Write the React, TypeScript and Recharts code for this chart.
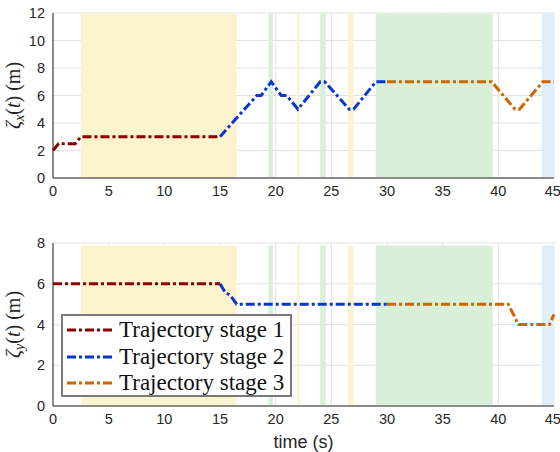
import React from "react";
import { CartesianGrid, Legend, Line, LineChart, ReferenceArea, XAxis, YAxis } from "recharts";

// shaded time windows [start, end, kind]
const bands: [number, number, string][] = [
  [2.5, 16.5, "yellow"],
  [19.35, 19.75, "green"],
  [21.95, 22.15, "yellow"],
  [24.0, 24.5, "green"],
  [26.5, 27.0, "yellow"],
  [29.0, 39.5, "green"],
  [43.9, 45, "blue"],
];

// zeta_x(t)
const xStage1 = [
  { t: 0, v: 2 }, { t: 0.5, v: 2.5 }, { t: 2, v: 2.5 }, { t: 2.5, v: 3 }, { t: 15, v: 3 },
];
const xStage2 = [
  { t: 15, v: 3 }, { t: 18.3, v: 6 }, { t: 18.7, v: 6 }, { t: 19.6, v: 7 }, { t: 20.5, v: 6 },
  { t: 21.0, v: 6 }, { t: 22.0, v: 5 }, { t: 24.0, v: 7 }, { t: 24.4, v: 7 }, { t: 26.6, v: 5 },
  { t: 27.0, v: 5 }, { t: 29.0, v: 7 }, { t: 30, v: 7 },
];
const xStage3 = [
  { t: 30, v: 7 }, { t: 39.4, v: 7 }, { t: 41.5, v: 5 }, { t: 41.9, v: 5 }, { t: 44.0, v: 7 }, { t: 45, v: 7 },
];

// zeta_y(t)
const yStage1 = [{ t: 0, v: 6 }, { t: 15, v: 6 }];
const yStage2 = [
  { t: 15, v: 6 }, { t: 15.5, v: 5.55 }, { t: 15.9, v: 5.45 }, { t: 16.5, v: 5 }, { t: 30, v: 5 },
];
const yStage3 = [
  { t: 30, v: 5 }, { t: 40.9, v: 5 }, { t: 41.8, v: 4 }, { t: 44.6, v: 4 }, { t: 45, v: 4.5 },
];

const timeTicks = [0, 5, 10, 15, 20, 25, 30, 35, 40, 45];
const topTicks = [0, 2, 4, 6, 8, 10, 12];
const bottomTicks = [0, 2, 4, 6, 8];

const legendNames = ["Trajectory stage 1", "Trajectory stage 2", "Trajectory stage 3"];

const RED = "#8c0000";
const BLUE = "#0a36d0";
const ORANGE = "#cf6500";
const stageColors = [RED, BLUE, ORANGE];
const bandColors: Record<string, string> = {
  yellow: "#fdf3cd",
  green: "#d9f0d8",
  blue: "#e0eefc",
};

const DASH = "9 3 3 3";
const tickStyle = { fill: "#262626", fontSize: 14.5, fontFamily: "Liberation Sans, Arial, sans-serif" };

function YLabel({ viewBox, sub }: any) {
  const cx = viewBox.x + 20;
  const cy = viewBox.y + viewBox.height / 2;
  return (
    <text
      x={cx}
      y={cy}
      transform={`rotate(-90, ${cx}, ${cy})`}
      textAnchor="middle"
      fill="#262626"
      fontFamily="Liberation Serif, DejaVu Serif, serif"
      fontSize={20}
    >
      <tspan fontStyle="italic">ζ</tspan>
      <tspan fontStyle="italic" fontSize={14} dy={4}>{sub}</tspan>
      <tspan dy={-4}>(</tspan>
      <tspan fontStyle="italic">t</tspan>
      <tspan>)  (m)</tspan>
    </text>
  );
}

function LegendBox() {
  return (
    <div
      style={{
        border: "2px solid #7a7a7a",
        background: "#fff",
        padding: "1px 4px 1px 3px",
        width: 231,
        height: 83,
        boxSizing: "border-box",
      }}
    >
      {legendNames.map((name, i) => (
        <div key={name} style={{ display: "flex", alignItems: "center", height: 26.5 }}>
          <svg width={48} height={10} style={{ marginRight: 5, flexShrink: 0 }}>
            <line x1={1} y1={5} x2={47} y2={5} stroke={stageColors[i]} strokeWidth={3} strokeDasharray={DASH} />
          </svg>
          <span
            style={{
              fontFamily: "Liberation Serif, DejaVu Serif, serif",
              fontSize: 23,
              lineHeight: "26px",
              color: "#111",
              whiteSpace: "nowrap",
            }}
          >
            {name}
          </span>
        </div>
      ))}
    </div>
  );
}

export default function App() {
  const bandAreas = (y1: number, y2: number) =>
    bands.map(([a, b, k], i) => (
      <ReferenceArea
        key={i}
        x1={a}
        x2={b}
        y1={y1}
        y2={y2}
        fill={bandColors[k]}
        fillOpacity={1}
        stroke="none"
        ifOverflow="visible"
      />
    ));

  return (
    <div style={{ position: "absolute", left: 0, top: 0, width: 560, height: 452, background: "#fff" }}>
      <LineChart width={560} height={215} margin={{ top: 13, right: 6, bottom: 7, left: 0 }}>
        <CartesianGrid stroke="#e3e3e3" strokeWidth={1} />
        <XAxis
          dataKey="t"
          type="number"
          domain={[0, 45]}
          ticks={timeTicks}
          height={30}
          tick={tickStyle}
          tickLine={false}
          stroke="#262626"
          allowDuplicatedCategory={false}
        />
        <YAxis
          type="number"
          domain={[0, 12]}
          ticks={topTicks}
          width={53}
          tick={tickStyle}
          tickLine={false}
          stroke="#262626"
          label={<YLabel sub="x" />}
        />
        {bandAreas(0.05, 11.97)}
        <Line data={xStage1} dataKey="v" stroke={RED} strokeWidth={3} strokeDasharray={DASH} dot={false} isAnimationActive={false} type="linear" />
        <Line data={xStage2} dataKey="v" stroke={BLUE} strokeWidth={3} strokeDasharray={DASH} dot={false} isAnimationActive={false} type="linear" />
        <Line data={xStage3} dataKey="v" stroke={ORANGE} strokeWidth={3} strokeDasharray={DASH} dot={false} isAnimationActive={false} type="linear" />
      </LineChart>
      <LineChart width={560} height={237} margin={{ top: 28, right: 6, bottom: 1, left: 0 }}>
        <CartesianGrid stroke="#e3e3e3" strokeWidth={1} />
        <XAxis
          dataKey="t"
          type="number"
          domain={[0, 45]}
          ticks={timeTicks}
          height={45}
          tick={tickStyle}
          tickLine={false}
          stroke="#262626"
          allowDuplicatedCategory={false}
          label={{
            value: "time (s)",
            position: "insideBottom",
            offset: 3,
            fill: "#262626",
            fontSize: 18,
            fontFamily: "Liberation Sans, Arial, sans-serif",
          }}
        />
        <YAxis
          type="number"
          domain={[0, 8]}
          ticks={bottomTicks}
          width={53}
          tick={tickStyle}
          tickLine={false}
          stroke="#262626"
          label={<YLabel sub="y" />}
        />
        {bandAreas(0.05, 7.88)}
        <Line data={yStage1} dataKey="v" name={legendNames[0]} stroke={RED} strokeWidth={3} strokeDasharray={DASH} dot={false} isAnimationActive={false} type="linear" />
        <Line data={yStage2} dataKey="v" name={legendNames[1]} stroke={BLUE} strokeWidth={3} strokeDasharray={DASH} dot={false} isAnimationActive={false} type="linear" />
        <Line data={yStage3} dataKey="v" name={legendNames[2]} stroke={ORANGE} strokeWidth={3} strokeDasharray={DASH} dot={false} isAnimationActive={false} type="linear" />
        <Legend
          layout="horizontal"
          verticalAlign="middle"
          align="center"
          content={<LegendBox />}
          wrapperStyle={{ position: "absolute", left: 61, top: 99, width: 231, height: 83 }}
        />
      </LineChart>
    </div>
  );
}
